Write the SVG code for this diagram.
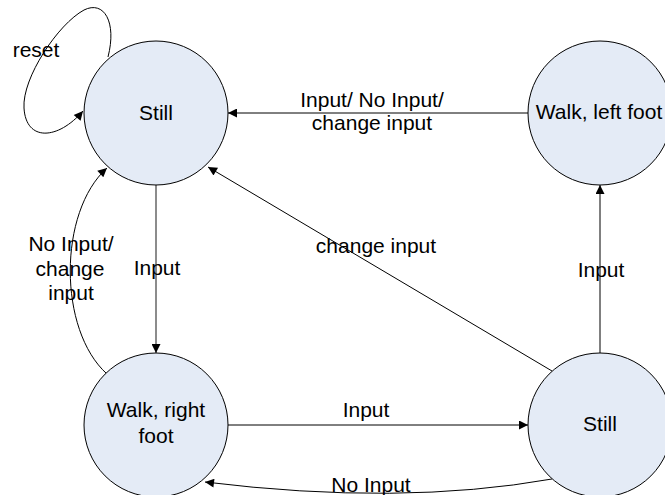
<svg xmlns="http://www.w3.org/2000/svg" width="665" height="495" viewBox="0 0 665 495">
  <style>
    .state { fill: #e4ebf6; stroke: #000; stroke-width: 1; }
    .lbl { font-family: "Liberation Sans", Arial, sans-serif; font-size: 21px; fill: #000; text-anchor: middle; }
    .edge { fill: none; stroke: #000; stroke-width: 1; marker-end: url(#arrow); }
  </style>
  <defs>
    <marker id="arrow" viewBox="0 0 10 10" refX="10" refY="5" markerWidth="11" markerHeight="9" markerUnits="userSpaceOnUse" orient="auto">
      <path d="M0,0 L10,5 L0,10 z" fill="#000"/>
    </marker>
  </defs>
  <rect width="665" height="495" fill="#fff"/>

  <g id="connectors">
    <!-- self loop on Still -->
    <path class="edge" d="M108,57 C117,22 104,0 84,10 C58,24 22,78 24,108 C26,142 58,140 83,111"/>
    <!-- Walk, left foot -> Still -->
    <path class="edge" d="M528,113 L228,113"/>
    <!-- Still -> Walk, right foot -->
    <path class="edge" d="M156,185 L156,353" style="stroke:#666;stroke-width:1.5"/>
    <!-- Walk, right foot -> Still (curve) -->
    <path class="edge" d="M107,374 C58,330 58,212 107,168"/>
    <!-- Walk, right foot -> Still (right) -->
    <path class="edge" d="M228,425 L528,425"/>
    <!-- Still (right) -> Walk, right foot -->
    <path class="edge" d="M552,479 Q400,506 205,482"/>
    <!-- Still (right) -> Walk, left foot -->
    <path class="edge" d="M600,353 L600,185"/>
    <!-- Still (right) -> Still -->
    <path class="edge" d="M552,371 L208,167"/>
    <!-- labels -->
    <text class="lbl" x="36" y="57">reset</text>
    <text class="lbl" x="372" y="107">Input/ No Input/</text>
    <text class="lbl" x="372" y="130">change input</text>
    <text class="lbl" x="157" y="275">Input</text>
    <text class="lbl" x="71" y="251">No Input/</text>
    <text class="lbl" x="70" y="276">change</text>
    <text class="lbl" x="71" y="300">input</text>
    <text class="lbl" x="376" y="253">change input</text>
    <text class="lbl" x="601" y="277">Input</text>
    <text class="lbl" x="366" y="417">Input</text>
    <text class="lbl" x="371" y="492">No Input</text>
  </g>

  <g id="still-top">
    <circle class="state" cx="156" cy="113" r="72"/>
    <text class="lbl" x="156" y="120">Still</text>
  </g>
  <g id="walk-left">
    <circle class="state" cx="600" cy="113" r="72"/>
    <text class="lbl" x="599" y="119">Walk, left foot</text>
  </g>
  <g id="walk-right">
    <circle class="state" cx="156" cy="425" r="72"/>
    <text class="lbl" x="156" y="417">Walk, right</text>
    <text class="lbl" x="156" y="443">foot</text>
  </g>
  <g id="still-right">
    <circle class="state" cx="600" cy="425" r="72"/>
    <text class="lbl" x="600" y="431">Still</text>
  </g>
</svg>
